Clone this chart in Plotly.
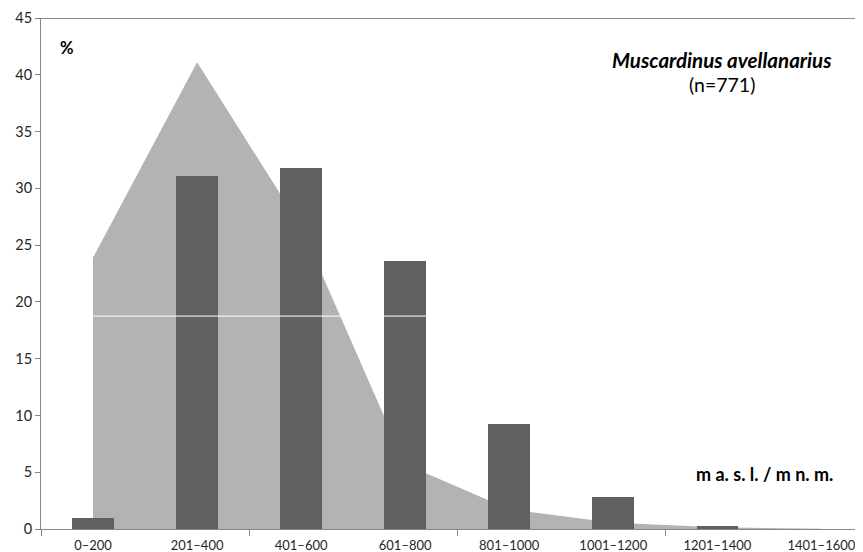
import plotly.graph_objects as go

categories = ["0–200", "201–400", "401–600", "601–800", "801–1000",
              "1001–1200", "1201–1400", "1401–1600"]
bar_values = [1.0, 31.1, 31.8, 23.6, 9.25, 2.85, 0.25, 0.0]
area_values = [23.9, 41.1, 26.6, 5.7, 1.75, 0.55, 0.15, 0.02]
y_ticks = [0, 5, 10, 15, 20, 25, 30, 35, 40, 45]
white_line_level = 18.75

FONT = "Lato"
xs = list(range(len(categories)))

fig = go.Figure()
fig.add_trace(go.Scatter(
    x=xs, y=area_values, mode="lines", line=dict(width=0, color="#b3b3b3"),
    fill="tozeroy", fillcolor="#b3b3b3", xaxis="x", yaxis="y",
    hoverinfo="skip", showlegend=False))
fig.add_trace(go.Bar(
    x=xs, y=bar_values, width=0.4, marker=dict(color="#606060",
    line=dict(width=0)), xaxis="x2", yaxis="y2",
    showlegend=False))

xr = [-0.5, 7.40]
fig.update_layout(
    width=855, height=544,
    margin=dict(l=33, r=0, t=10, b=23),
    paper_bgcolor="white", plot_bgcolor="white",
    font=dict(family=FONT, color="#262626"),
    xaxis=dict(range=xr, tickvals=xs, ticktext=categories, ticks="",
               showgrid=False, zeroline=False, showline=True,
               linecolor="#868686", linewidth=1, ticklabelstandoff=4,
               tickfont=dict(size=13, color="#262626")),
    xaxis2=dict(range=xr, overlaying="x", tickvals=[-0.5, 1.5, 3.5, 5.5, 7.5],
                ticks="outside", ticklen=6, tickcolor="#868686",
                showticklabels=False, showgrid=False, zeroline=False,
                showline=False),
    yaxis=dict(range=[0, 45], tickvals=y_ticks, ticks="outside", ticklen=5,
               tickcolor="#868686", showgrid=False, zeroline=False,
               showline=True, linecolor="#868686", linewidth=1,
               tickfont=dict(size=14.5, color="#262626")),
    yaxis2=dict(range=[0, 45], overlaying="y", visible=False),
    bargap=0,
    shapes=[
        dict(type="line", xref="x", yref="y", x0=0, x1=3.2,
             y0=white_line_level, y1=white_line_level,
             line=dict(color="white", width=1), layer="above"),
        dict(type="line", xref="paper", yref="y", x0=0, x1=1, y0=45, y1=45,
             line=dict(color="#1a1a1a", width=1), layer="above"),
    ],
    annotations=[
        dict(text="<b>%</b>", xref="paper", yref="paper", x=0.0316, y=0.941,
             xanchor="center", yanchor="middle", showarrow=False,
             font=dict(size=16.5, color="black")),
        dict(text="<b><i>Muscardinus avellanarius</i></b>", xref="paper",
             yref="paper", x=0.8285, y=0.918, xanchor="center",
             yanchor="middle", showarrow=False,
             font=dict(size=20.5, color="black")),
        dict(text="(n=771)", xref="paper", yref="paper", x=0.8285, y=0.869,
             xanchor="center", yanchor="middle", showarrow=False,
             font=dict(size=19.5, color="black")),
        dict(text="<b>m a. s. l. / m n. m.</b>", xref="paper", yref="paper",
             x=0.8796, y=0.1076, xanchor="center", yanchor="middle",
             showarrow=False, font=dict(size=18, color="black")),
    ],
)

fig.write_html("out.html")
